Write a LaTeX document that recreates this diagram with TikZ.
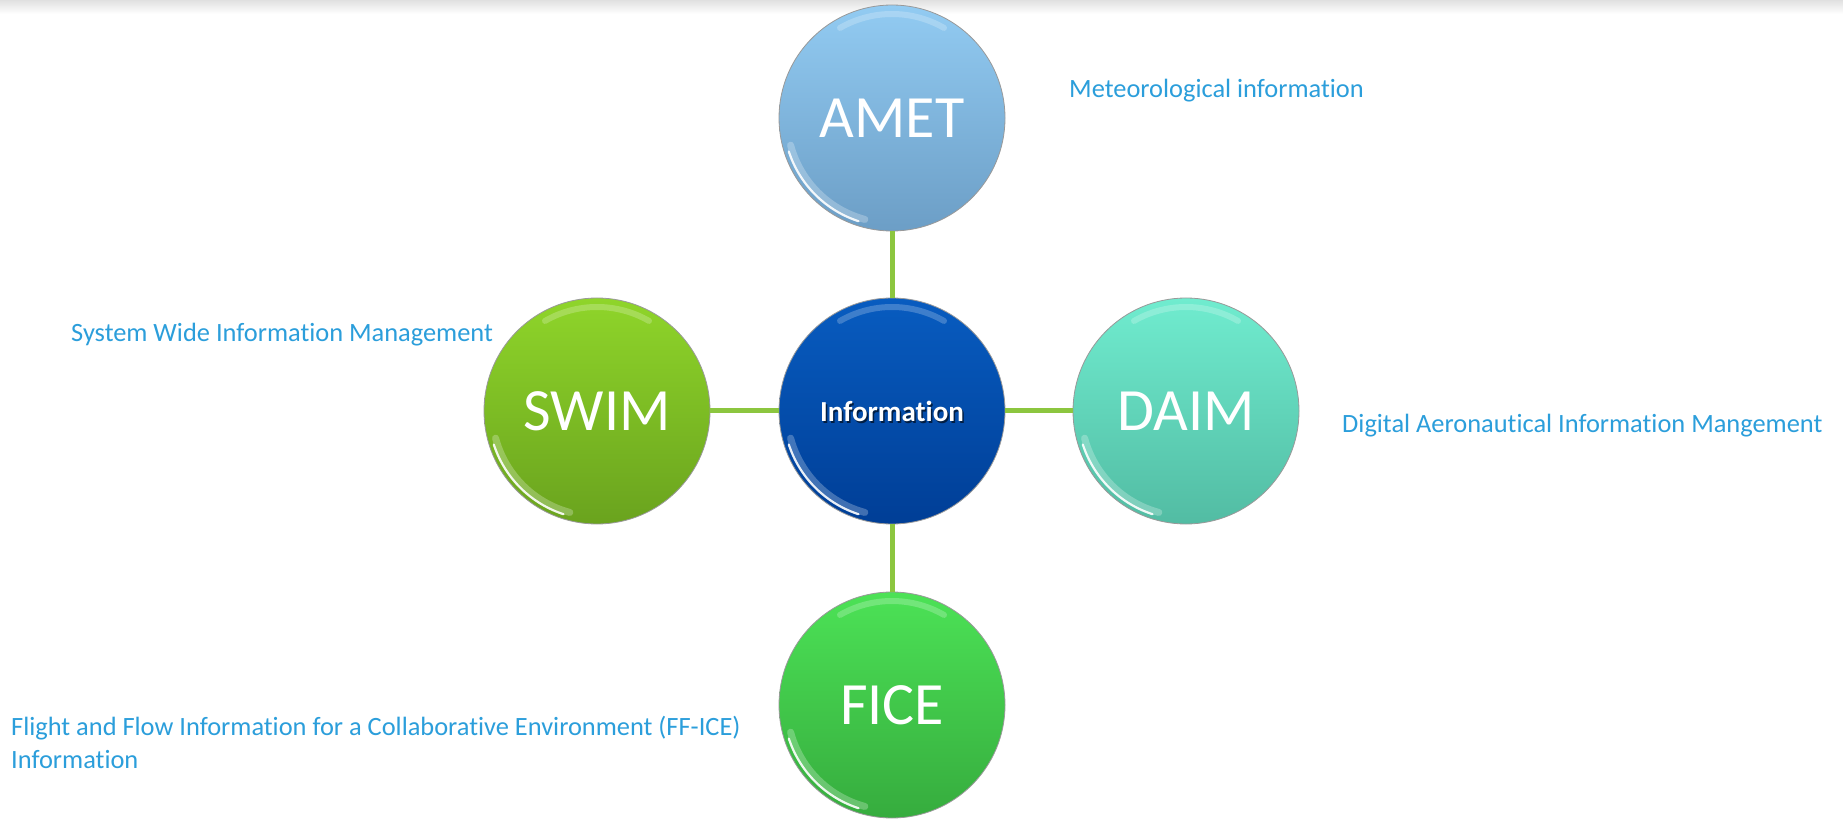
\documentclass[tikz,border=0pt]{standalone}
\usepackage{fontspec}
\setmainfont{Carlito}[Ligatures=NoCommon]
\definecolor{labelblue}{RGB}{43,158,219}
\definecolor{linkgreen}{RGB}{140,198,63}
\definecolor{ametTop}{RGB}{146,203,242}
\definecolor{ametBot}{RGB}{108,158,198}
\definecolor{infoTop}{RGB}{8,92,192}
\definecolor{infoBot}{RGB}{0,62,150}
\definecolor{swimTop}{RGB}{143,213,42}
\definecolor{swimBot}{RGB}{106,163,30}
\definecolor{daimTop}{RGB}{112,236,207}
\definecolor{daimBot}{RGB}{82,188,163}
\definecolor{ficeTop}{RGB}{76,226,86}
\definecolor{ficeBot}{RGB}{54,172,62}
\tikzset{
  bubble/.style={circle, inner sep=0pt, minimum size=226pt, draw=black!40, line width=0.8pt,
    text=white, font=\fontsize{60}{66}\selectfont},
  link/.style={draw=linkgreen, line width=5pt},
  desc/.style={anchor=base west, inner sep=0pt, text=labelblue, font=\fontsize{26.4}{32}\selectfont},
  rimsoft/.style={white, line width=7pt, opacity=0.25, line cap=round},
  rimlight/.style={white, line width=2.2pt, opacity=0.9, line cap=round},
  toplight/.style={white, line width=6pt, opacity=0.22, line cap=round}
}
\begin{document}
\begin{tikzpicture}[x=1pt,y=1pt]
\useasboundingbox (0,0) rectangle (1843,820);
\fill[white] (0,0) rectangle (1843,820);
\shade[top color=black!12, bottom color=white] (0,806) rectangle (1843,820);

\node[bubble, top color=ametTop, bottom color=ametBot] (amet) at (892,702) {AMET};
\node[bubble, top color=infoTop, bottom color=infoBot] (info) at (892,409) {};
\node[bubble, top color=swimTop, bottom color=swimBot] (swim) at (597,409) {SWIM};
\node[bubble, top color=daimTop, bottom color=daimBot] (daim) at (1186,409) {DAIM};
\node[bubble, top color=ficeTop, bottom color=ficeBot] (fice) at (892,115) {FICE};

\foreach \n in {amet,info,swim,daim,fice}{
  \draw[rimsoft] ([shift={(195:105pt)}]\n.center) arc (195:255:105pt);
  \draw[rimlight] ([shift={(198:108.5pt)}]\n.center) arc (198:252:108.5pt);
  \draw[toplight] ([shift={(60:104pt)}]\n.center) arc (60:120:104pt);
}

\node[text=black, opacity=0.6, font=\bfseries\fontsize{29}{34}\selectfont] (infoshadow)
  at ([shift={(1.5pt,-2pt)}]info.center) {Information};
\node[text=white, font=\bfseries\fontsize{29}{34}\selectfont] (infotext) at (info.center) {Information};

\draw[link] (amet) -- (info);
\draw[link] (info) -- (fice);
\draw[link] (swim) -- (info);
\draw[link] (info) -- (daim);

\node[desc] (ametdesc) at (1069,722) {Meteorological information};
\node[desc] (swimdesc) at (71,478) {System Wide Information Management};
\node[desc] (daimdesc) at (1342,388) {Digital Aeronautical Information Mangement};
\node[desc] (ficedesc1) at (11,85) {Flight and Flow Information for a Collaborative Environment (FF-ICE)};
\node[desc] (ficedesc2) at (11,52) {Information};
\end{tikzpicture}
\end{document}
